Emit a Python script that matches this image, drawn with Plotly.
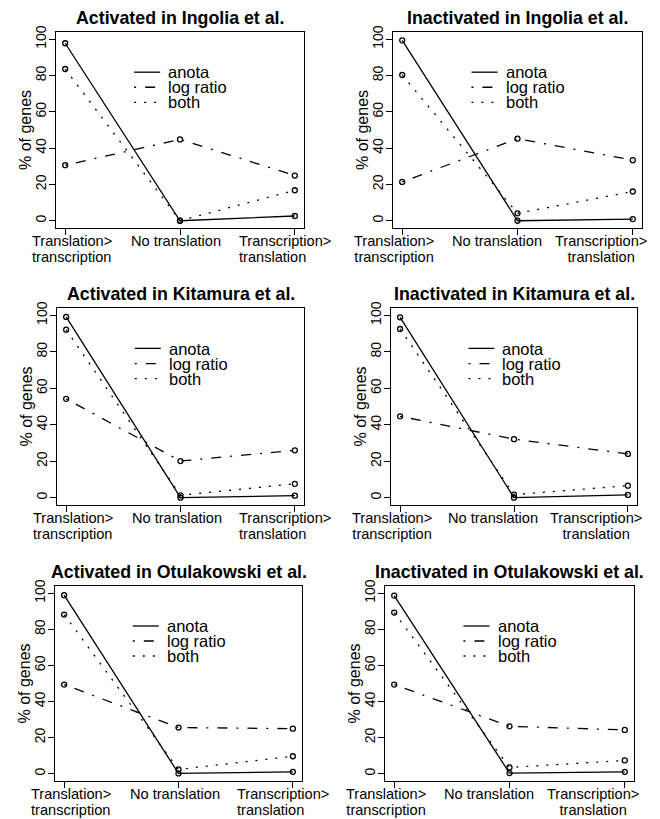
import plotly.graph_objects as go

# ---- data ----
categories = ["Translation>\ntranscription", "No translation", "Transcription>\ntranslation"]
x_positions = [1, 2, 3]
y_ticks = [0, 20, 40, 60, 80, 100]
series_names = ["anota", "log ratio", "both"]

titles = [
    "Activated in Ingolia et al.",
    "Inactivated in Ingolia et al.",
    "Activated in Kitamura et al.",
    "Inactivated in Kitamura et al.",
    "Activated in Otulakowski et al.",
    "Inactivated in Otulakowski et al.",
]

anota = [
    [97.8, 0.0, 2.6],
    [99.4, 0.0, 0.9],
    [99.1, 0.0, 1.1],
    [98.9, 0.0, 1.5],
    [98.9, 0.2, 1.1],
    [98.7, 0.4, 1.1],
]
log_ratio = [
    [30.6, 44.8, 24.9],
    [21.4, 45.2, 33.4],
    [54.2, 20.1, 26.0],
    [44.6, 32.1, 24.0],
    [49.4, 25.6, 25.0],
    [49.4, 26.3, 24.3],
]
both = [
    [83.6, 0.0, 16.8],
    [80.3, 4.1, 16.1],
    [92.1, 1.3, 7.6],
    [92.5, 1.7, 6.6],
    [88.2, 2.4, 9.7],
    [89.3, 3.5, 7.4],
]

# ---- layout (pixel boxes of each panel: x0, x1, y_top, y_bottom) ----
W, H = 660, 819
boxes = [
    (56, 304, 32, 228),
    (393, 642, 32, 228),
    (57, 304, 308, 505),
    (391, 637, 308, 505),
    (55, 302, 586, 781),
    (385, 634, 586, 781),
]
# category label placement per column: (anchor, align, pixel shifts from the tick)
label_place = {
    0: ("left", "left", [-35, -51, -58]),
    1: ("center", "center", [-8, -21, -32]),
}

FONT = "Liberation Sans, Arial, Helvetica, sans-serif"
dashes = {
    "anota": "solid",
    "log ratio": "2px,9px,10px,9px",
    "both": "2px,8px",
}


def multiline(text, size):
    return "<br>".join(f'<span style="font-size:{size}px">{t}</span>' for t in text.split("\n"))


fig = go.Figure()
layout_axes = {}
annotations = []
shapes = []

for i, (bx0, bx1, byt, byb) in enumerate(boxes):
    n = i + 1
    xa = "x" if n == 1 else f"x{n}"
    ya = "y" if n == 1 else f"y{n}"
    xkey = "xaxis" if n == 1 else f"xaxis{n}"
    ykey = "yaxis" if n == 1 else f"yaxis{n}"

    for name, vals in zip(series_names, [anota[i], log_ratio[i], both[i]]):
        fig.add_trace(go.Scatter(
            x=x_positions, y=vals, mode="lines+markers", name=name,
            xaxis=xa, yaxis=ya, showlegend=False,
            line=dict(color="black", width=1.3, dash=dashes[name]),
            marker=dict(symbol="circle-open", size=5, color="black",
                        line=dict(width=1.3, color="black")),
        ))

    layout_axes[xkey] = dict(
        domain=[bx0 / W, bx1 / W], anchor=ya, range=[0.92, 3.08], automargin=False,
        tickmode="array", tickvals=x_positions, showticklabels=False,
        ticks="outside", ticklen=6, tickwidth=1.2, tickcolor="black",
        showline=True, mirror=True, linecolor="black", linewidth=1.3,
        showgrid=False, zeroline=False,
    )
    layout_axes[ykey] = dict(
        domain=[1 - byb / H, 1 - byt / H], anchor=xa, range=[-4, 104], automargin=False,
        tickmode="array", tickvals=y_ticks, tickangle=-90, ticklabelstandoff=-3,
        ticks="outside", ticklen=6, tickwidth=1.2, tickcolor="black",
        showline=True, mirror=True, linecolor="black", linewidth=1.3,
        showgrid=False, zeroline=False,
        tickfont=dict(family=FONT, size=14, color="black"),
    )

    # category labels under the x axis
    anchor, align, shifts = label_place[i % 2]
    for xv, cat, sh in zip(x_positions, categories, shifts):
        annotations.append(dict(
            text=multiline(cat, 14.6), xref=xa, yref=f"{ya} domain",
            x=xv, y=0, xanchor=anchor, yanchor="top", align=align,
            xshift=sh, yshift=-3, showarrow=False,
            font=dict(family=FONT, size=12.3, color="black"),
        ))

    # y-axis title
    annotations.append(dict(
        text="% of genes", xref=f"{xa} domain", yref=f"{ya} domain",
        x=0, y=0.5, xanchor="center", yanchor="middle", xshift=-31,
        textangle=-90, showarrow=False,
        font=dict(family=FONT, size=16, color="black"),
    ))

    # panel title
    annotations.append(dict(
        text=f"<b>{titles[i]}</b>", xref=f"{xa} domain", yref=f"{ya} domain",
        x=0.5, y=1, xanchor="center", yanchor="bottom", yshift=2, showarrow=False,
        font=dict(family=FONT, size=17.8, color="black"),
    ))

    # legend (keys + labels)
    row_y = [0.795, 0.718, 0.641]
    for name, ry in zip(series_names, row_y):
        shapes.append(dict(
            type="line", xref=f"{xa} domain", yref=f"{ya} domain",
            x0=0.315, x1=0.42, y0=ry, y1=ry,
            line=dict(color="black", width=1.3, dash=dashes[name]),
        ))
    annotations.append(dict(
        text=multiline("\n".join(series_names), 16.5), xref=f"{xa} domain", yref=f"{ya} domain",
        x=0.445, y=row_y[1], xanchor="left", yanchor="middle", align="left",
        showarrow=False,
        font=dict(family=FONT, size=11.5, color="black"),
    ))

fig.update_layout(
    width=W, height=H, margin=dict(l=0, r=0, t=0, b=0),
    paper_bgcolor="white", plot_bgcolor="white",
    showlegend=False, annotations=annotations, shapes=shapes,
    **layout_axes,
)

fig.write_html("out.html")
